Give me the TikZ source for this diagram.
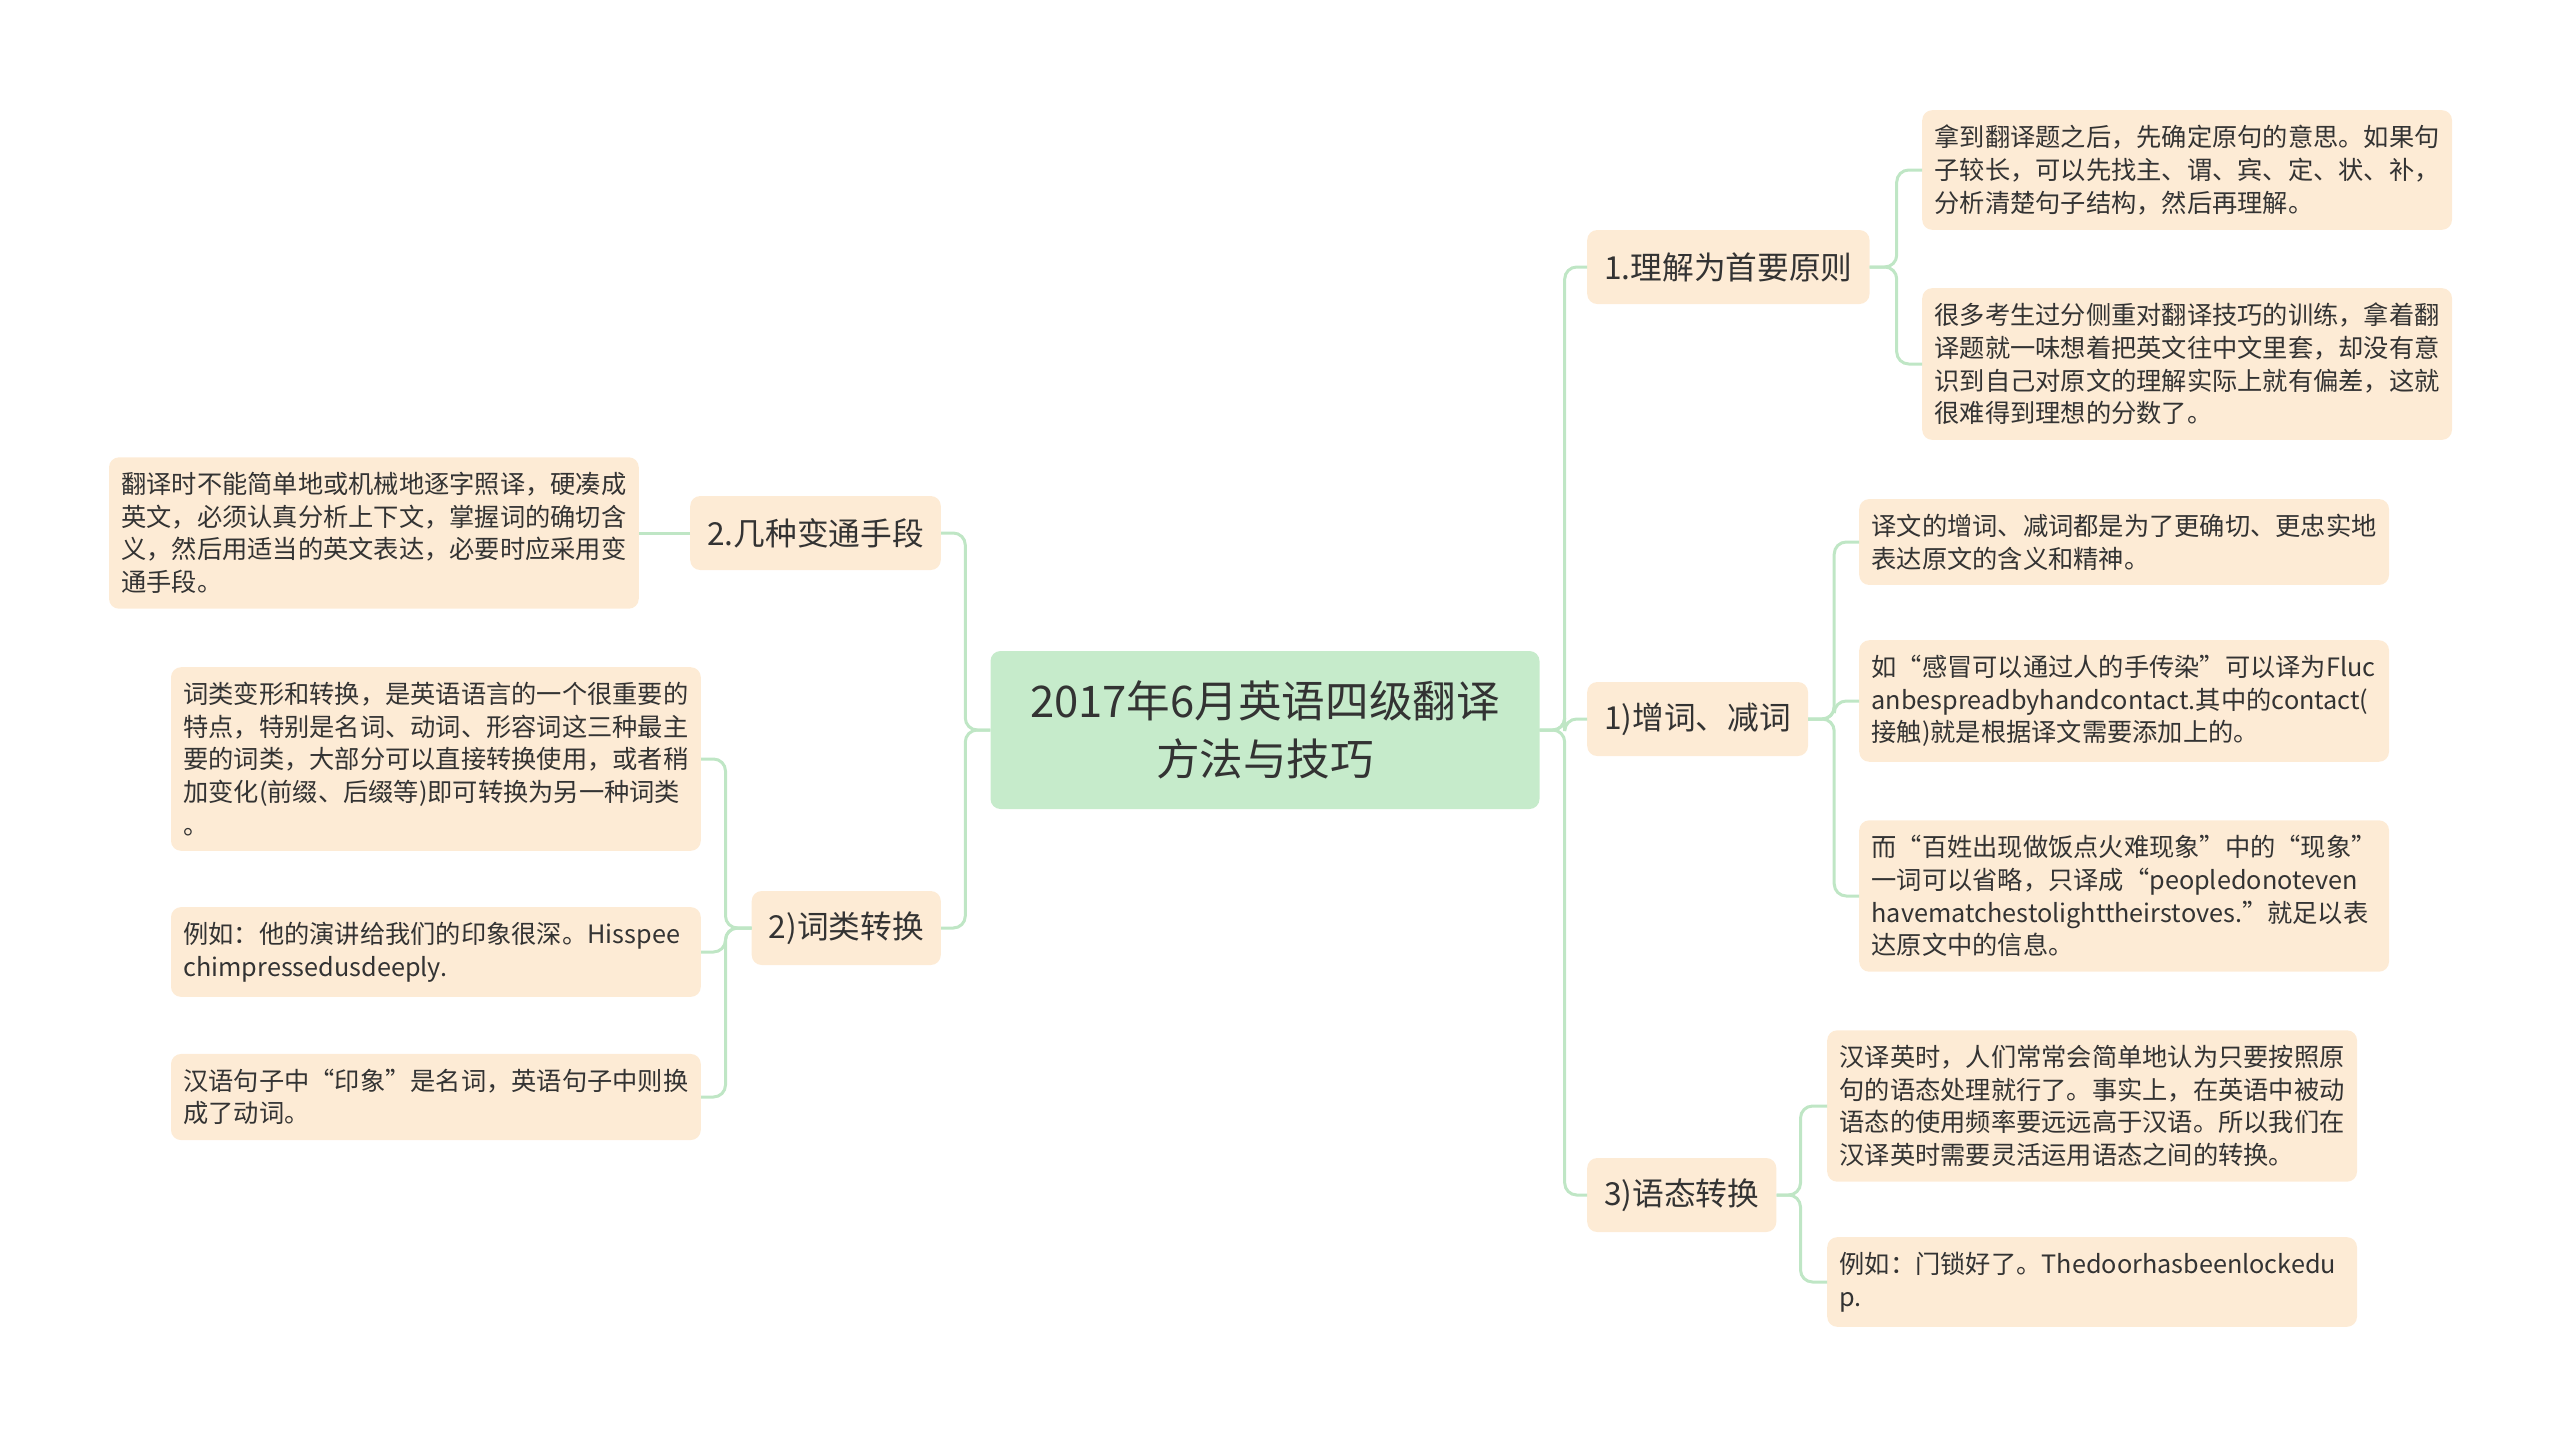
\documentclass[tikz,border=0pt]{standalone}
\usepackage{fontspec}
\setmainfont{Noto Sans CJK SC}
\usetikzlibrary{calc}
\definecolor{leaffill}{HTML}{FDEBD5}
\definecolor{rootfill}{HTML}{C6EBCB}
\definecolor{linkgreen}{HTML}{BFE6C5}
\definecolor{inkgray}{HTML}{333333}
\tikzset{
    rootbox/.style={fill=rootfill, rounded corners=10pt, minimum width=549pt, minimum height=158pt,
        align=center, text=inkgray, font=\fontsize{43.6}{57.5}\selectfont},
    topicbox/.style={fill=leaffill, rounded corners=10pt, minimum height=74pt, inner xsep=17pt,
        text=inkgray, font=\fontsize{31.7}{40}\selectfont},
    notebox/.style={fill=leaffill, rounded corners=10pt, text width=505pt, inner xsep=12.4pt,
        inner ysep=14.9pt, align=left, text=inkgray, font=\fontsize{25.25}{32.7}\selectfont},
    link/.style={draw=linkgreen, line width=3pt, rounded corners=12pt}
}
\begin{document}
\begin{tikzpicture}[x=1pt, y=-1pt]
    \useasboundingbox (0,0) rectangle (2560,1436);

    \draw (1265,730) node[rootbox](root){2017年6月英语四级翻译\\方法与技巧};

    % right branches
    \draw (1587,267) node[topicbox, anchor=west](rule){1.理解为首要原则};
    \draw (1587,719) node[topicbox, anchor=west](addcut){1)增词、减词};
    \draw (1587,1195) node[topicbox, anchor=west](voice){3)语态转换};

    \draw (1922,170) node[notebox, anchor=west](ruleA){拿到翻译题之后，先确定原句的意思。如果句\\子较长，可以先找主、谓、宾、定、状、补，\\分析清楚句子结构，然后再理解。};
    \draw (1922,364) node[notebox, anchor=west](ruleB){很多考生过分侧重对翻译技巧的训练，拿着翻\\译题就一味想着把英文往中文里套，却没有意\\识到自己对原文的理解实际上就有偏差，这就\\很难得到理想的分数了。};

    \draw (1859,542) node[notebox, anchor=west](addA){译文的增词、减词都是为了更确切、更忠实地\\表达原文的含义和精神。};
    \draw (1859,701) node[notebox, anchor=west](addB){如“感冒可以通过人的手传染”可以译为Fluc\\anbespreadbyhandcontact.其中的contact(\\接触)就是根据译文需要添加上的。};
    \draw (1859,896) node[notebox, anchor=west](addC){而“百姓出现做饭点火难现象”中的“现象”\\一词可以省略，只译成“peopledonoteven\\havematchestolighttheirstoves.”就足以表\\达原文中的信息。};

    \draw (1827,1106) node[notebox, anchor=west](voiceA){汉译英时，人们常常会简单地认为只要按照原\\句的语态处理就行了。事实上，在英语中被动\\语态的使用频率要远远高于汉语。所以我们在\\汉译英时需要灵活运用语态之间的转换。};
    \draw (1827,1282) node[notebox, anchor=west](voiceB){例如：门锁好了。Thedoorhasbeenlockedu\\p.};

    % left branches
    \draw (941,533) node[topicbox, anchor=east](flex){2.几种变通手段};
    \draw (941,928) node[topicbox, anchor=east](wordcls){2)词类转换};

    \draw (639,533) node[notebox, anchor=east](flexA){翻译时不能简单地或机械地逐字照译，硬凑成\\英文，必须认真分析上下文，掌握词的确切含\\义，然后用适当的英文表达，必要时应采用变\\通手段。};

    \draw (701,759) node[notebox, anchor=east](clsA){词类变形和转换，是英语语言的一个很重要的\\特点，特别是名词、动词、形容词这三种最主\\要的词类，大部分可以直接转换使用，或者稍\\加变化(前缀、后缀等)即可转换为另一种词类\\。};
    \draw (701,952) node[notebox, anchor=east](clsB){例如：他的演讲给我们的印象很深。Hisspee\\chimpressedusdeeply.};
    \draw (701,1097) node[notebox, anchor=east](clsC){汉语句子中“印象”是名词，英语句子中则换\\成了动词。};

    \draw[link] (root.east) -- ++(25,0) |- (rule.west);
    \draw[link] (root.east) -- ++(25,0) |- (addcut.west);
    \draw[link] (root.east) -- ++(25,0) |- (voice.west);
    \draw[link] (root.west) -- ++(-25,0) |- (flex.east);
    \draw[link] (root.west) -- ++(-25,0) |- (wordcls.east);

    \draw[link] (rule.east) -- ++(27,0) |- (ruleA.west);
    \draw[link] (rule.east) -- ++(27,0) |- (ruleB.west);
    \draw[link] (addcut.east) -- ++(26,0) |- (addA.west);
    \draw[link] (addcut.east) -- ++(26,0) |- (addB.west);
    \draw[link] (addcut.east) -- ++(26,0) |- (addC.west);
    \draw[link] (voice.east) -- ++(24,0) |- (voiceA.west);
    \draw[link] (voice.east) -- ++(24,0) |- (voiceB.west);

    \draw[link] (flex.west) -- (flexA.east);
    \draw[link] (wordcls.west) -- ++(-26,0) |- (clsA.east);
    \draw[link] (wordcls.west) -- ++(-26,0) |- (clsB.east);
    \draw[link] (wordcls.west) -- ++(-26,0) |- (clsC.east);
\end{tikzpicture}
\end{document}
